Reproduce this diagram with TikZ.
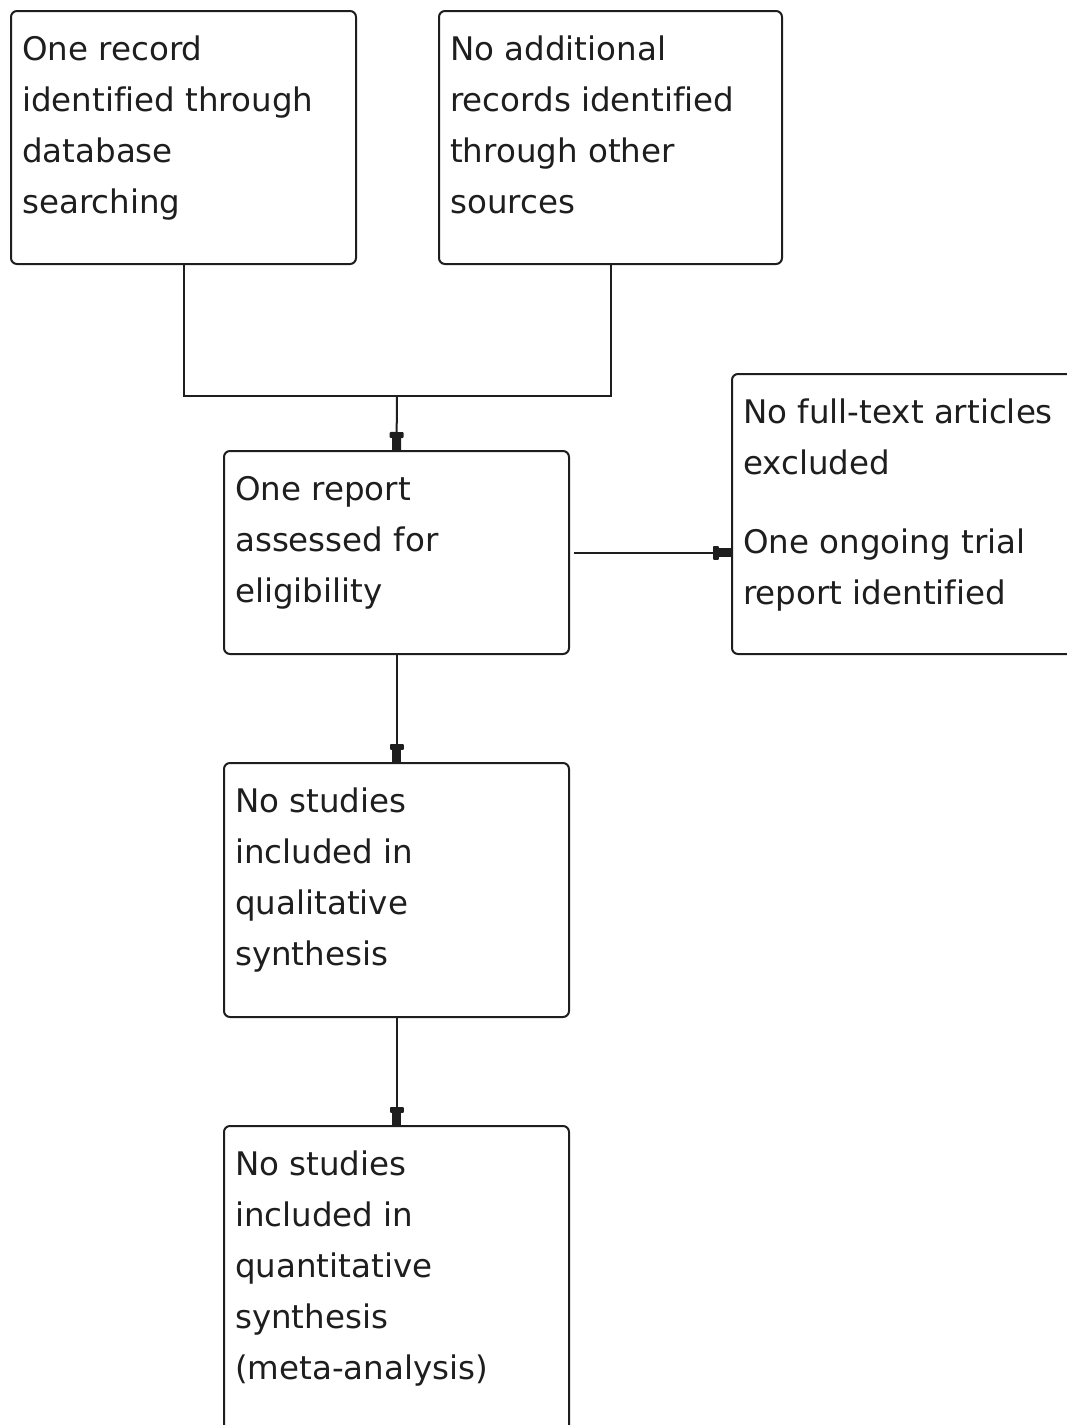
\documentclass[tikz,border=0pt]{standalone}
\usepackage{fontspec}
\setmainfont[Ligatures={NoCommon}]{DejaVu Sans}
\usetikzlibrary{arrows.meta}
\definecolor{ink}{HTML}{1E1E1E}
\newcommand{\tb}[1]{\parbox[t]{330pt}{\raggedright #1}}
\begin{document}
\begin{tikzpicture}[x=1pt,y=-1pt,
  box/.style={draw=ink, line width=2pt, rounded corners=6pt, anchor=north west, inner sep=0pt},
  txt/.style={anchor=base west, inner sep=0pt, text=ink, font=\fontsize{32.5}{51}\selectfont},
  conn/.style={draw=ink, line width=2pt},
  arr/.style={conn, -{Rectangle[length=6pt,width=14pt,round] Rectangle[length=12pt,width=9pt]}}
]
\useasboundingbox (0,0) rectangle (1067,1425);
\clip (0,0) rectangle (1067,1425);
\node[box, minimum width=345pt, minimum height=253pt] (b1) at (10,10) {};
\node[box, minimum width=343pt, minimum height=253pt] (b2) at (438,10) {};
\node[box, minimum width=345pt, minimum height=203pt] (b3) at (223,450) {};
\node[box, minimum width=360pt, minimum height=280pt] (b4) at (731,373) {};
\node[box, minimum width=345pt, minimum height=254pt] (b5) at (223,762) {};
\node[box, minimum width=345pt, minimum height=320pt] (b6) at (223,1125) {};

\node[txt] (t1) at ([xshift=12pt,yshift=-50pt]b1.north west) {\tb{One record\\identified through\\database\\searching}};
\node[txt] (t2) at ([xshift=12pt,yshift=-50pt]b2.north west) {\tb{No additional\\records identified\\through other\\sources}};
\node[txt] (t3) at ([xshift=12pt,yshift=-50pt]b3.north west) {\tb{One report\\assessed for\\eligibility}};
\node[txt] (t4) at ([xshift=12pt,yshift=-50pt]b4.north west) {\tb{No full-text articles\\excluded\\[28pt]One ongoing trial\\report identified}};
\node[txt] (t5) at ([xshift=12pt,yshift=-50pt]b5.north west) {\tb{No studies\\included in\\qualitative\\synthesis}};
\node[txt] (t6) at ([xshift=12pt,yshift=-50pt]b6.north west) {\tb{No studies\\included in\\quantitative\\synthesis\\(meta-analysis)}};

\coordinate (j) at (397,396);
\draw[conn] (b1.south) |- (j) -| (b2.south);
\draw[arr] (j) -- (b3.north);
\draw[arr] ([xshift=4pt]b3.east) -- (b3.east -| b4.west);
\draw[arr] (b3.south) -- (b5.north);
\draw[arr] (b5.south) -- (b6.north);
\end{tikzpicture}
\end{document}
